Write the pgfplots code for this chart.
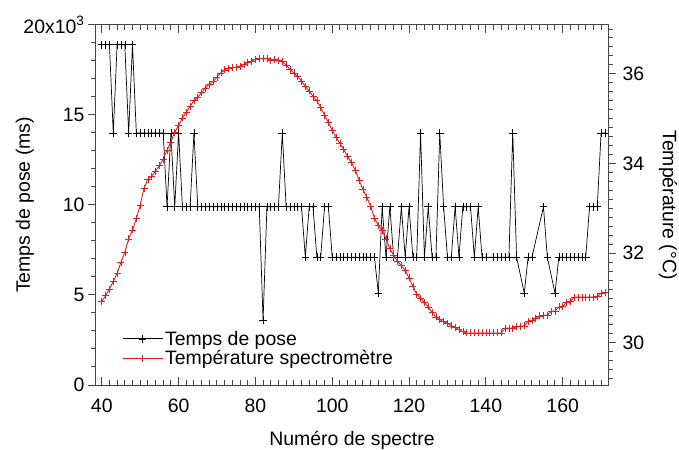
\documentclass[border=0pt]{standalone}
\usepackage{fontspec}
\setmainfont{Liberation Sans}
\usepackage{pgfplots}
\pgfplotsset{compat=1.18}
\usepackage{pgfplotstable}

\definecolor{tred}{RGB}{232,28,28}
\definecolor{axgray}{RGB}{70,70,70}

\pgfplotstableread{
x y
40 18900
41 18900
42 18900
43 14000
44 18900
45 18900
46 18900
47 14000
48 18900
49 14000
50 14000
51 14000
52 14000
53 14000
54 14000
55 14000
56 14000
57 9900
58 14000
59 9900
60 14000
61 9900
62 9900
63 9900
64 14000
65 9900
66 9900
67 9900
68 9900
69 9900
70 9900
71 9900
72 9900
73 9900
74 9900
75 9900
76 9900
77 9900
78 9900
79 9900
80 9900
81 9900
82 3600
83 9900
84 9900
85 9900
86 9900
87 14000
88 9900
89 9900
90 9900
91 9900
92 9900
93 7100
94 9900
95 9900
96 7100
97 7100
98 9900
99 9900
100 7100
101 7100
102 7100
103 7100
104 7100
105 7100
106 7100
107 7100
108 7100
109 7100
110 7100
111 7100
112 5100
113 9900
114 7100
115 9900
116 7100
117 7100
118 9900
119 7100
120 9900
121 7100
122 7100
123 14000
124 7100
125 9900
126 7100
127 7100
128 14000
129 9900
130 7100
131 7100
132 9900
133 7100
134 9900
135 9900
136 9900
137 7100
138 9900
139 7100
140 7100
142 7100
143 7100
144 7100
145 7100
146 7100
147 14000
148 7100
150 5100
151 7100
152 7100
155 9900
156 7100
158 5100
159 7100
160 7100
161 7100
162 7100
163 7100
164 7100
165 7100
166 7100
167 9900
168 9900
169 9900
170 14000
171 14000
}\pose

\pgfplotstableread{
x t
40 30.92
41 31.05
42 31.20
43 31.37
44 31.55
45 31.80
46 32.02
47 32.32
48 32.52
49 32.77
50 33.07
51 33.45
52 33.65
53 33.72
54 33.83
55 33.95
56 34.10
57 34.30
58 34.48
59 34.70
60 34.85
61 35.02
62 35.14
63 35.28
64 35.40
65 35.48
66 35.58
67 35.68
68 35.77
69 35.83
70 35.93
71 36.02
72 36.09
73 36.13
74 36.14
75 36.15
76 36.17
77 36.22
78 36.25
79 36.28
80 36.33
81 36.34
82 36.34
83 36.34
84 36.30
85 36.33
86 36.30
87 36.27
88 36.20
89 36.10
90 36.02
91 35.94
92 35.84
93 35.72
94 35.62
95 35.50
96 35.40
97 35.25
98 35.08
99 34.92
100 34.74
101 34.59
102 34.45
103 34.31
104 34.16
105 34.02
106 33.85
107 33.63
108 33.42
109 33.25
110 33.05
111 32.78
112 32.62
113 32.50
114 32.32
115 32.10
116 31.95
117 31.82
118 31.72
119 31.62
120 31.45
121 31.26
122 31.08
123 31.00
124 30.90
125 30.80
126 30.68
127 30.58
128 30.52
129 30.47
130 30.44
131 30.38
132 30.34
133 30.30
134 30.25
135 30.22
136 30.22
137 30.22
138 30.22
139 30.22
140 30.22
141 30.22
142 30.22
143 30.22
144 30.22
145 30.33
146 30.33
147 30.33
148 30.36
149 30.37
150 30.38
151 30.48
152 30.50
153 30.55
154 30.60
155 30.61
156 30.62
157 30.70
158 30.71
159 30.80
160 30.81
161 30.91
162 30.92
163 31.02
164 31.02
165 31.02
166 31.02
167 31.02
168 31.02
169 31.03
170 31.11
171 31.12
}\temp

\begin{document}
\begin{tikzpicture}[font=\fontsize{19.5}{23}\selectfont]
\path[use as bounding box] (-96bp,-65bp) rectangle (583bp,385bp);
\begin{axis}[
  at={(0,0)}, anchor=south west,
  scale only axis, width=512bp, height=360bp,
  xmin=38.5, xmax=171.8, ymin=0, ymax=20000,
  axis line style={axgray, line width=1bp},
  major tick style={axgray, line width=1bp},
  minor tick style={axgray, line width=1bp},
  tick align=inside,
  major tick length=8bp, minor tick length=5bp,
  xtick={40,60,...,160}, minor xtick={40,42,...,170},
  xtick pos=both, ytick pos=left,
  ytick={0,5000,10000,15000,20000},
  yticklabels={0,5,10,15,{20x10\textsuperscript{3}}},
  minor ytick={1000,2000,...,19000},
  major y tick style={xshift=-8bp},
  minor y tick style={xshift=-5bp},
  yticklabel style={xshift=-8bp},
  xticklabel style={yshift=-10bp},
  scaled ticks=false,
  /pgf/number format/assume math mode=true,
  xlabel={Numéro de spectre},
  ylabel={Temps de pose (ms)},
  xlabel style={at={(axis description cs:0.5,-0.153)}, anchor=center},
  ylabel style={at={(axis description cs:-0.139,0.5)}, anchor=center},
  legend style={at={(0.045,0.04)}, anchor=south west, draw=none, fill=none,
    font=\fontsize{19.5}{23}\selectfont, row sep=0bp},
  legend cell align=left,
  legend image code/.code={\draw[mark repeat=2,mark phase=2,#1] plot coordinates {(0bp,0bp) (20bp,0bp) (40bp,0bp)};},
]
\addplot[black, line width=0.7bp, mark=+, mark size=3.8bp, mark options={line width=0.6bp}] table[x=x,y=y] {\pose};
\addlegendentry{Temps de pose}
\addlegendimage{tred, line width=0.9bp, mark=+, mark size=3.8bp, mark options={line width=0.6bp}}
\addlegendentry{Température spectromètre}
\end{axis}
\begin{axis}[
  at={(0,0)}, anchor=south west,
  scale only axis, width=512bp, height=360bp,
  xmin=38.5, xmax=171.8, ymin=29.06, ymax=37.09,
  axis x line=none, axis y line*=right,
  axis line style={axgray, line width=1bp},
  major tick style={axgray, line width=1bp},
  minor tick style={axgray, line width=1bp},
  tick align=outside,
  major tick length=8bp, minor tick length=5bp,
  ytick={30,32,34,36}, minor ytick={29.2,29.4,...,37.0},
  yticklabel style={xshift=3bp},
  /pgf/number format/assume math mode=true,
  ylabel={Température (°C)},
  ylabel style={at={(axis description cs:1.117,0.5)}, anchor=center, rotate=180},
]
\addplot[tred, line width=0.9bp, mark=+, mark size=3.5bp, mark options={line width=0.6bp}] table[x=x,y=t] {\temp};
\end{axis}
\end{tikzpicture}
\end{document}
